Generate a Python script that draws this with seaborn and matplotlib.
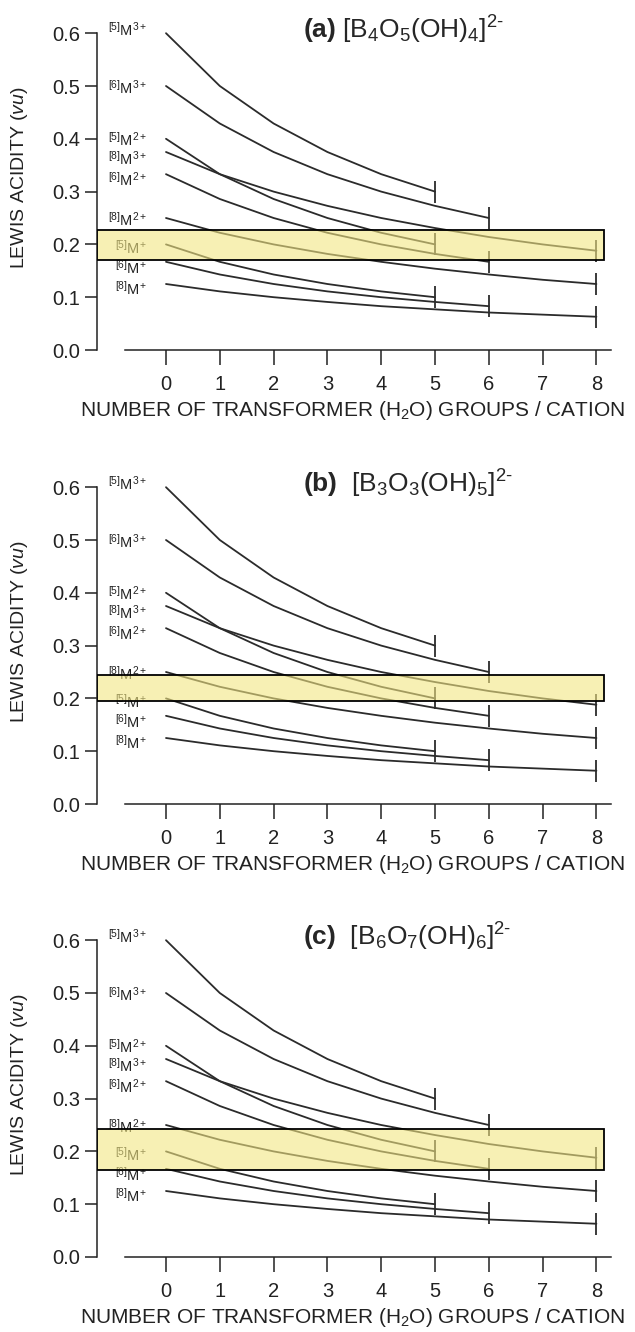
import matplotlib
matplotlib.use('Agg')
import matplotlib.pyplot as plt
from matplotlib.patches import Rectangle
import numpy as np
import pandas as pd
import seaborn as sns

sns.set_style('ticks')
plt.rcParams['font.family'] = ['Liberation Sans', 'DejaVu Sans']
plt.rcParams['mathtext.fontset'] = 'custom'
plt.rcParams['mathtext.rm'] = 'Liberation Sans'
plt.rcParams['mathtext.it'] = 'Liberation Sans:italic'
plt.rcParams['mathtext.bf'] = 'Liberation Sans:bold'

# Lewis acidity (vu), one value per number of transformer groups
cations = ['[5]M3+', '[6]M3+', '[5]M2+', '[8]M3+', '[6]M2+',
           '[8]M2+', '[5]M+', '[6]M+', '[8]M+']
cation_labels = [r'$^{[5]}$M$^{3+}$', r'$^{[6]}$M$^{3+}$', r'$^{[5]}$M$^{2+}$',
                 r'$^{[8]}$M$^{3+}$', r'$^{[6]}$M$^{2+}$', r'$^{[8]}$M$^{2+}$',
                 r'$^{[5]}$M$^{+}$', r'$^{[6]}$M$^{+}$', r'$^{[8]}$M$^{+}$']
acidity = [
    [0.600, 0.500, 0.429, 0.375, 0.333, 0.300],
    [0.500, 0.429, 0.375, 0.333, 0.300, 0.273, 0.250],
    [0.400, 0.333, 0.286, 0.250, 0.222, 0.200],
    [0.375, 0.333, 0.300, 0.273, 0.250, 0.231, 0.214, 0.200, 0.188],
    [0.333, 0.286, 0.250, 0.222, 0.200, 0.182, 0.167],
    [0.250, 0.222, 0.200, 0.182, 0.167, 0.154, 0.143, 0.133, 0.125],
    [0.200, 0.167, 0.143, 0.125, 0.111, 0.100],
    [0.167, 0.143, 0.125, 0.111, 0.100, 0.091, 0.083],
    [0.125, 0.111, 0.100, 0.091, 0.083, 0.077, 0.071, 0.067, 0.063],
]
# where each cation label sits (spread out so they do not collide)
label_y = [0.606, 0.497, 0.398, 0.362, 0.322, 0.246, 0.193, 0.156, 0.116]

panel_titles = [r'$\mathbf{(a)}$ [B$_4$O$_5$(OH)$_4$]$^{2\text{-}}$',
                r'$\mathbf{(b)}$  [B$_3$O$_3$(OH)$_5$]$^{2\text{-}}$',
                r'$\mathbf{(c)}$  [B$_6$O$_7$(OH)$_6$]$^{2\text{-}}$']
# yellow band (bottom, top) of each panel
band_low = [0.170, 0.195, 0.164]
band_high = [0.228, 0.244, 0.243]

rows = []
for name, vals in zip(cations, acidity):
    for k, v in enumerate(vals):
        rows.append({'cation': name, 'groups': k, 'acidity': v})
df = pd.DataFrame(rows)
ends = df.groupby('cation', sort=False).tail(1)

W, H = 635, 1332
fig = plt.figure(figsize=(W / 100, H / 100), dpi=100)

line_col = '#2b2b2b'
px_unit_x = 53.8
px_unit_y = 528
ymax = 0.64
xmin, xmax = -1.28, 8.6
zero_px = [350, 804, 1257]

for i, axis_y in enumerate(zero_px):
    left = (166 + xmin * px_unit_x) / W
    width = (xmax - xmin) * px_unit_x / W
    height = ymax * px_unit_y / H
    bottom = 1 - axis_y / H
    ax = fig.add_axes([left, bottom, width, height])

    sns.lineplot(data=df, x='groups', y='acidity', units='cation', estimator=None,
                 color=line_col, lw=1.3, ax=ax, legend=False, sort=False)
    ax.plot(ends['groups'], ends['acidity'], ls='none', marker='|', ms=16,
            mew=1.3, color=line_col)

    for lab, ly in zip(cation_labels, label_y):
        ax.text(-0.35, ly, lab, ha='right', va='center',
                fontsize=10.5, color='#222222', zorder=1)

    ax.add_patch(Rectangle((xmin, band_low[i]), 8.15 - xmin,
                           band_high[i] - band_low[i],
                           facecolor=(0.95, 0.90, 0.51, 0.6),
                           edgecolor='black', lw=1.3, zorder=5))

    ax.text(2.55, 0.607, panel_titles[i], ha='left', va='center', fontsize=19)

    ax.set_xlim(xmin, xmax)
    ax.set_ylim(0, ymax)
    ax.set_xticks(range(0, 9))
    ax.set_yticks([0.0, 0.1, 0.2, 0.3, 0.4, 0.5, 0.6])
    ax.set_yticklabels(['0.0', '0.1', '0.2', '0.3', '0.4', '0.5', '0.6'])
    ax.spines['top'].set_visible(False)
    ax.spines['right'].set_visible(False)
    ax.spines['left'].set_bounds(0, 0.6)
    ax.spines['bottom'].set_bounds(-0.77, 8.27)
    for s in ['left', 'bottom']:
        ax.spines[s].set_linewidth(1.1)
        ax.spines[s].set_color('#222222')
    ax.tick_params(axis='y', direction='out', length=9, width=1.1,
                   labelsize=14.5, pad=3, colors='#222222')
    ax.tick_params(axis='x', direction='out', length=11, width=1.1,
                   labelsize=14.5, pad=7, colors='#222222')
    ax.set_xlabel('NUMBER OF TRANSFORMER (H$_2$O) GROUPS / CATION',
                  fontsize=15, color='#222222')
    ax.xaxis.set_label_coords((352 - 97) / (width * W), -0.145)
    ax.set_ylabel(r'LEWIS ACIDITY ($\mathit{vu}$)', fontsize=14, color='#222222')
    ax.yaxis.set_label_coords((30 - 97) / (width * W), 0.51)

fig.savefig('out.png', dpi=100)
